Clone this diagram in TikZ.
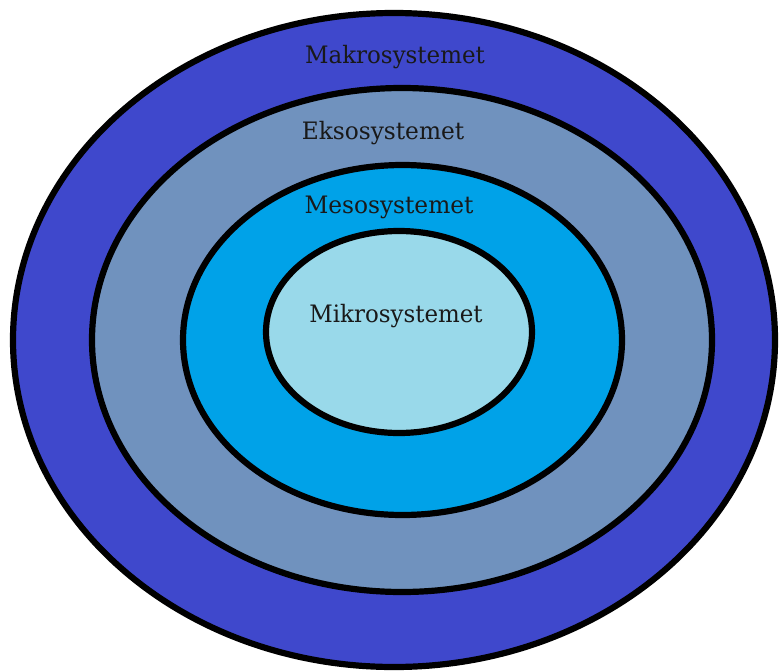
\documentclass[tikz,border=0pt]{standalone}
\usepackage{fontspec}
\setmainfont{DejaVu Serif}
\definecolor{makro}{HTML}{3F48CC}
\definecolor{ekso}{HTML}{7092BE}
\definecolor{meso}{HTML}{00A2E8}
\definecolor{mikro}{HTML}{99D9EA}
\begin{document}
\begin{tikzpicture}[x=1pt,y=-1pt,
  ring/.style={draw=black,line width=6.2pt},
  lbl/.style={font=\fontsize{24}{28}\selectfont,text=black!90,inner sep=0pt}]
\useasboundingbox (0,0) rectangle (780,672);
\draw[ring,fill=makro] (394,340) ellipse [x radius=381,y radius=327];
\draw[ring,fill=ekso] (402,340) ellipse [x radius=310,y radius=252];
\draw[ring,fill=meso] (402.5,340) ellipse [x radius=219.5,y radius=175];
\draw[ring,fill=mikro] (399,332) ellipse [x radius=133,y radius=101];
\node[lbl,xscale=0.956] (makro) at (395,57) {Makrosystemet};
\node[lbl,xscale=0.97] (ekso) at (383,133) {Eksosystemet};
\node[lbl,xscale=0.97] (meso) at (389,207) {Mesosystemet};
\node[lbl,xscale=0.955] (mikro) at (396,316) {Mikrosystemet};
\end{tikzpicture}
\end{document}
